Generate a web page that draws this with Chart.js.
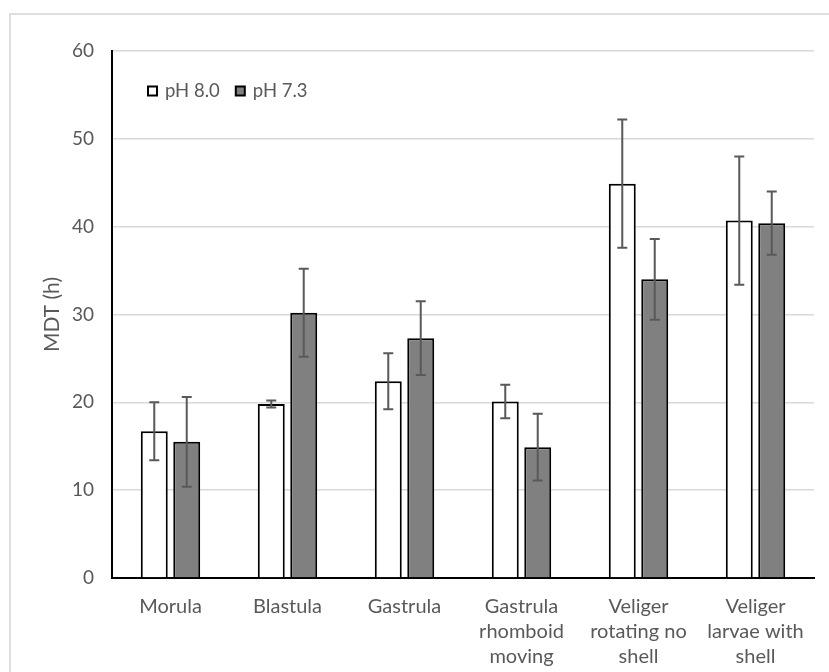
<!DOCTYPE html>
<html>
<head>
<meta charset="utf-8">
<script src="https://cdn.jsdelivr.net/npm/chart.js@4.4.1/dist/chart.umd.min.js"></script>
<style>
  html, body { margin: 0; padding: 0; background: #ffffff; overflow: hidden; }
  #frame { position: absolute; left: 9px; top: 13px; width: 860px; height: 700px; border: 2px solid #dedede; box-sizing: border-box; }
  #c { position: absolute; left: 0; top: 0; }
</style>
</head>
<body>
<div id="frame"></div>
<canvas id="c" width="829" height="672"></canvas>
<script>
const categories = [
  ["Morula"],
  ["Blastula"],
  ["Gastrula"],
  ["Gastrula", "rhomboid", "moving"],
  ["Veliger", "rotating no", "shell"],
  ["Veliger", "larvae with", "shell"]
];
const seriesLabels = ["pH 8.0", "pH 7.3"];
const ph80 = [16.7, 19.8, 22.4, 20.1, 44.9, 40.7];
const ph80Err = [3.3, 0.4, 3.2, 1.9, 7.3, 7.3];
const ph73 = [15.5, 30.2, 27.3, 14.9, 34.0, 40.4];
const ph73Err = [5.1, 5.0, 4.2, 3.8, 4.6, 3.6];
const yTicks = [0, 10, 20, 30, 40, 50, 60];

const TEXT = '#595959';
const FONT = 'Lato, "Open Sans", sans-serif';

const errorBars = {
  id: 'errorBars',
  afterDatasetsDraw(chart) {
    const ctx = chart.ctx;
    const y = chart.scales.y;
    ctx.save();
    ctx.strokeStyle = '#595959';
    ctx.lineWidth = 2;
    chart.data.datasets.forEach((ds, di) => {
      const meta = chart.getDatasetMeta(di);
      meta.data.forEach((bar, i) => {
        const v = ds.data[i], e = ds.errors[i];
        const x = bar.x;
        const yt = y.getPixelForValue(v + e);
        const yb = y.getPixelForValue(v - e);
        ctx.beginPath();
        ctx.moveTo(x, yt); ctx.lineTo(x, yb);
        ctx.moveTo(x - 5, yt); ctx.lineTo(x + 5, yt);
        ctx.moveTo(x - 5, yb); ctx.lineTo(x + 5, yb);
        ctx.stroke();
      });
    });
    ctx.restore();
  }
};

const insideLegend = {
  id: 'insideLegend',
  afterDraw(chart) {
    const ctx = chart.ctx;
    const a = chart.chartArea;
    let x = a.left + 36;
    const yc = a.top + 40;
    ctx.save();
    ctx.font = '18.5px ' + FONT;
    ctx.textBaseline = 'middle';
    ctx.textAlign = 'left';
    chart.data.datasets.forEach((ds) => {
      ctx.fillStyle = ds.backgroundColor;
      ctx.fillRect(x, yc - 4.5, 9, 9);
      ctx.strokeStyle = '#000000';
      ctx.lineWidth = 2;
      ctx.strokeRect(x, yc - 4.5, 9, 9);
      ctx.fillStyle = TEXT;
      ctx.fillText(ds.label, x + 17, yc);
      x += 17 + ctx.measureText(ds.label).width + 16;
    });
    ctx.restore();
  }
};

new Chart(document.getElementById('c'), {
  type: 'bar',
  data: {
    labels: categories,
    datasets: [
      { label: seriesLabels[0], data: ph80, errors: ph80Err, backgroundColor: '#ffffff', borderColor: '#000000', borderWidth: 2 },
      { label: seriesLabels[1], data: ph73, errors: ph73Err, backgroundColor: '#808080', borderColor: '#000000', borderWidth: 2 }
    ]
  },
  options: {
    responsive: false,
    animation: false,
    devicePixelRatio: 1,
    layout: { padding: { left: 0, right: 15, top: 51, bottom: 0 } },
    datasets: { bar: { categoryPercentage: 0.555, barPercentage: 0.83 } },
    plugins: { legend: { display: false }, tooltip: { enabled: false } },
    scales: {
      x: {
        grid: { display: false, drawTicks: false },
        border: { display: true, color: '#000000', width: 2 },
        ticks: { color: TEXT, font: { family: FONT, size: 20, lineHeight: 1.25 }, padding: 16, maxRotation: 0, autoSkip: false },
        afterFit: (s) => { s.height = 94; }
      },
      y: {
        min: 0, max: 60,
        afterBuildTicks: (s) => { s.ticks = yTicks.map(v => ({ value: v })); },
        grid: { color: '#d9d9d9', lineWidth: 1.5, drawTicks: false },
        border: { display: true, color: '#000000', width: 2 },
        ticks: { color: TEXT, font: { family: FONT, size: 19 }, padding: 18 },
        title: { display: true, text: 'MDT (h)', color: TEXT, font: { family: FONT, size: 21 }, padding: { top: 40, bottom: 0 } },
        afterFit: (s) => { s.width = 112; }
      }
    }
  },
  plugins: [errorBars, insideLegend]
});
</script>
</body>
</html>
